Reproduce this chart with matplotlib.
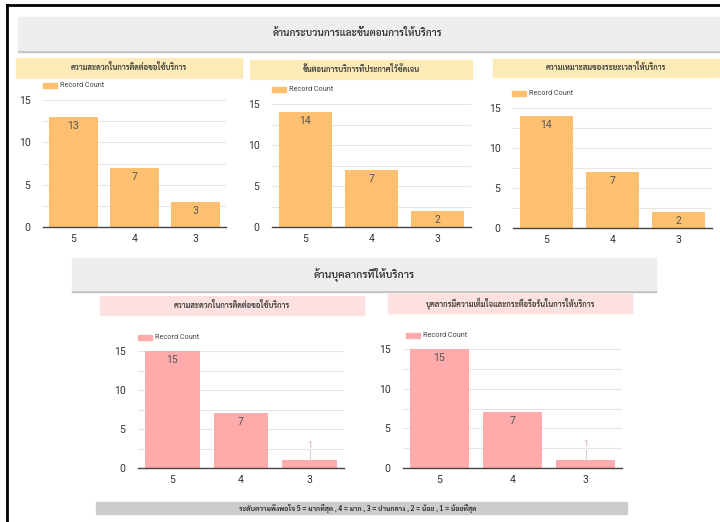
import matplotlib
matplotlib.use("Agg")
import matplotlib.pyplot as plt
from matplotlib.patches import Rectangle
from matplotlib.lines import Line2D

# ==================================================
# DATA
# ==================================================

levels = ["5", "4", "3"]

process_header = "ด้านกระบวนการและขั้นตอนการให้บริการ"
process_titles = [
    "ความสะดวกในการติดต่อขอใช้บริการ",
    "ขั้นตอนการบริการที่ประกาศไว้ชัดเจน",
    "ความเหมาะสมของระยะเวลาให้บริการ",
]
process_counts = [
    [13, 7, 3],
    [14, 7, 2],
    [14, 7, 2],
]

staff_header = "ด้านบุคลากรที่ให้บริการ"
staff_titles = [
    "ความสะดวกในการติดต่อขอใช้บริการ",
    "บุคลากรมีความเต็มใจและกระตือรือร้นในการให้บริการ",
]
staff_counts = [
    [15, 7, 1],
    [15, 7, 1],
]

footer_note = "ระดับความพึงพอใจ 5 = มากที่สุด , 4 = มาก , 3 = ปานกลาง , 2 = น้อย , 1 = น้อยที่สุด"
series_name = "Record Count"

# ==================================================
# STYLE
# ==================================================

W, H = 720, 522
THAI = ["Sarabun", "Noto Sans Thai", "DejaVu Sans"]
NUM = ["Roboto", "DejaVu Sans"]
ORANGE = "#fdbf70"
PINK = "#ffabab"
YELLOW_BAR = "#fcebb6"
PINK_BAR = "#fde1e1"

fig = plt.figure(figsize=(W / 100, H / 100), dpi=100)
fig.patch.set_facecolor("white")


def fx(x):
    return x / W


def fy(y):
    return 1 - y / H


def box(x0, y0, x1, y1, color, shadow=False):
    if shadow:
        fig.patches.append(Rectangle((fx(x0), fy(y1 + 1.5)), fx(x1 - x0), (2.5) / H,
                                     transform=fig.transFigure, color="#c4c4c4", zorder=0))
    fig.patches.append(Rectangle((fx(x0), fy(y1)), fx(x1 - x0), (y1 - y0) / H,
                                 transform=fig.transFigure, color=color, zorder=1))


def label(x, y, s, size, **kw):
    fig.text(fx(x), fy(y), s, ha="center", va="center", fontsize=size,
             family=THAI, zorder=3, **kw)


def bar_chart(rect, counts, color, legend_xy):
    x0, ytop, x1, ybot = rect
    ax = fig.add_axes([fx(x0), fy(ybot), fx(x1 - x0), (ybot - ytop) / H])
    pos = range(len(levels))
    ax.bar(pos, counts, width=0.8, color=color, zorder=2)
    ax.set_xlim(-0.5, len(levels) - 0.5)
    ax.set_ylim(0, 15)
    ax.set_yticks([0, 5, 10, 15])
    ax.set_yticks([2.5, 7.5, 12.5], minor=True)
    ax.set_xticks(list(pos))
    ax.set_xticklabels(levels)
    ax.grid(axis="y", which="both", color="#e6e6e6", linewidth=0.8, zorder=0)
    for side in ["left", "right", "top"]:
        ax.spines[side].set_visible(False)
    ax.spines["bottom"].set_color("#444444")
    ax.spines["bottom"].set_linewidth(1.0)
    ax.tick_params(axis="both", which="both", length=0, colors="#333333", labelsize=7.5)
    ax.tick_params(axis="y", pad=9)
    ax.tick_params(axis="x", pad=5)
    for t in ax.get_xticklabels() + ax.get_yticklabels():
        t.set_family(NUM)

    # value labels: inside the top of the bar, or above it with a leader for short bars
    unit = (ybot - ytop) / 15.0
    for i, v in enumerate(counts):
        if v * unit > 14:
            ax.text(i, v - 0.5, str(v), ha="center", va="top", fontsize=7.5,
                    color="#555555", family=NUM, zorder=3)
        else:
            ax.add_line(Line2D([i, i], [v, v + 1.25], color="#cfcfcf", linewidth=0.7, zorder=3))
            ax.text(i, v + 1.35, str(v), ha="center", va="bottom", fontsize=6.5,
                    color="#e2a8a8", family=NUM, zorder=3)

    # legend swatch
    lx, ly = legend_xy
    fig.patches.append(Rectangle((fx(lx), fy(ly + 5)), fx(14), 5 / H,
                                 transform=fig.transFigure, color=color, zorder=2))
    fig.text(fx(lx + 17), fy(ly + 2.5), series_name, ha="left", va="center",
             fontsize=5.2, color="#444444", family=NUM)
    return ax


# ==================================================
# PAGE FRAME
# ==================================================

fig.add_artist(Line2D([fx(7), fx(7)], [0, fy(5)], color="black", linewidth=2.0,
                      transform=fig.transFigure))
fig.add_artist(Line2D([fx(7), 1], [fy(5), fy(5)], color="black", linewidth=2.0,
                      transform=fig.transFigure))

# ==================================================
# SECTION 1: PROCESS
# ==================================================

box(18, 17, 722, 50, "#eeeeee", shadow=True)
label(357, 33, process_header, 7.2, color="#333333", fontweight="semibold")

title_boxes = [(16, 58, 242, 78), (250, 60, 472, 79), (493, 59, 719, 77)]
plot_rects = [(43, 100, 226, 227), (272, 104, 471, 227), (513, 108, 712, 228)]
legends = [(43, 83), (272, 87), (512, 91)]

for title, counts, tb, pr, lg in zip(process_titles, process_counts,
                                     title_boxes, plot_rects, legends):
    box(*tb, YELLOW_BAR)
    label((tb[0] + tb[2]) / 2, (tb[1] + tb[3]) / 2, title, 5.5,
          color="#333333", fontweight="semibold")
    bar_chart(pr, counts, ORANGE, lg)

# ==================================================
# SECTION 2: STAFF
# ==================================================

box(72, 258, 656, 290, "#eeeeee", shadow=True)
label(364, 274, staff_header, 7.6, color="#333333", fontweight="semibold")

title_boxes = [(100, 296, 364, 315), (388, 294, 632, 313)]
plot_rects = [(138, 351, 344, 468), (403, 349, 622, 468)]
legends = [(138, 335), (406, 333)]

for title, counts, tb, pr, lg in zip(staff_titles, staff_counts,
                                     title_boxes, plot_rects, legends):
    box(*tb, PINK_BAR)
    label((tb[0] + tb[2]) / 2, (tb[1] + tb[3]) / 2, title, 5.5,
          color="#333333", fontweight="semibold")
    bar_chart(pr, counts, PINK, lg)

# footer legend of the rating scale
box(96, 502, 627, 514, "#cccccc")
label(358, 508, footer_note, 5.0, color="#222222", fontweight="semibold")

fig.savefig("out.png", dpi=100)
plt.close(fig)
